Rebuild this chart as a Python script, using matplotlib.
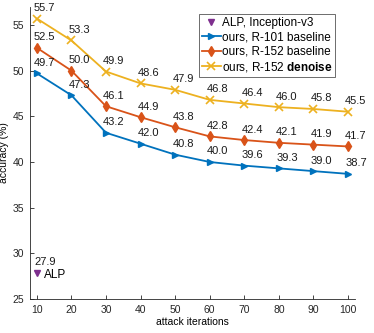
import numpy as np
import matplotlib
matplotlib.use('Agg')
import matplotlib.pyplot as plt

plt.rcParams['font.family'] = ['Liberation Sans', 'DejaVu Sans']
plt.rcParams['mathtext.fontset'] = 'custom'
plt.rcParams['mathtext.rm'] = 'Liberation Sans'
plt.rcParams['mathtext.bf'] = 'Liberation Sans:bold'

iters = [10, 20, 30, 40, 50, 60, 70, 80, 90, 100]
r101 = [49.7, 47.3, 43.2, 42.0, 40.8, 40.0, 39.6, 39.3, 39.0, 38.7]
r152 = [52.5, 50.0, 46.1, 44.9, 43.8, 42.8, 42.4, 42.1, 41.9, 41.7]
r152_dn = [55.7, 53.3, 49.9, 48.6, 47.9, 46.8, 46.4, 46.0, 45.8, 45.5]
alp_x = [10]
alp_y = [27.9]

fig = plt.figure(figsize=(3.74, 3.33), dpi=100)
ax = fig.add_axes([0.080, 0.102, 0.869, 0.878])

ax.plot(alp_x, alp_y, 'v', color='#7E2F8E', ms=5, ls='none', label='ALP, Inception-v3')
ax.plot(iters, r101, '->', color='#0072BD', lw=1.3, ms=5, label='ours, R-101 baseline')
ax.plot(iters, r152, '-d', color='#D95319', lw=1.3, ms=5, label='ours, R-152 baseline')
ax.plot(iters, r152_dn, '-x', color='#EDB120', lw=1.3, ms=6, mew=1.2,
        label=r'ours, R-152 $\mathbf{denoise}$')

# value labels
for ys in [r101, r152, r152_dn, alp_y]:
    xs = iters if ys is not alp_y else alp_x
    for x, y in zip(xs, ys):
        ax.annotate('%.1f' % y, (x, y), xytext=(-2, 4), textcoords='offset points',
                    ha='left', va='bottom', fontsize=8, color='#1a1a1a')
ax.annotate('ALP', (alp_x[0], alp_y[0]), xytext=(5, -2), textcoords='offset points',
            ha='left', va='center', fontsize=8.5)

ax.set_xlim(8, 102)
ax.set_ylim(25, 57)
ax.set_xticks(iters)
ax.set_yticks([25, 30, 35, 40, 45, 50, 55])
ax.tick_params(direction='in', labelsize=7.5, colors='#262626', length=3, width=0.6, pad=4)
for s in ['top', 'right']:
    ax.spines[s].set_visible(False)
for s in ['left', 'bottom']:
    ax.spines[s].set_color('#262626')
    ax.spines[s].set_linewidth(0.6)
ax.set_xlabel('attack iterations', fontsize=7.5, labelpad=2)
ax.set_ylabel('accuracy (%)', fontsize=7.5, labelpad=3)

leg = ax.legend(loc='upper right', bbox_to_anchor=(0.94, 0.975), fontsize=8.5,
                fancybox=False, edgecolor='#555555', framealpha=1,
                handlelength=1.6, handletextpad=0.1, borderpad=0.25, labelspacing=0.2,
                borderaxespad=0)
leg.get_frame().set_linewidth(0.6)

fig.savefig('out.png', dpi=100)
